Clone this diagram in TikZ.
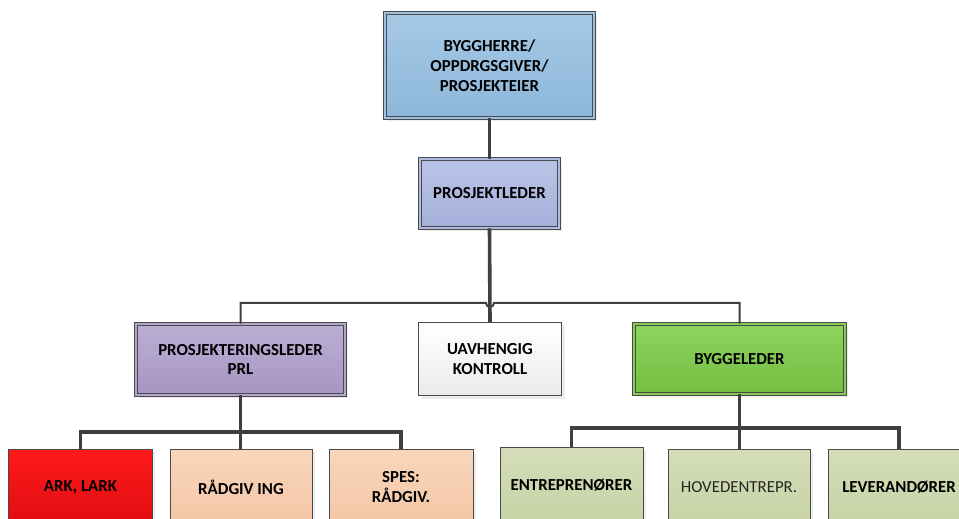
\documentclass[tikz,border=0pt]{standalone}
\usepackage{fontspec}
\setmainfont{Carlito}
\usetikzlibrary{shadows}

\definecolor{linegray}{HTML}{3F3F3F}
\definecolor{edgegray}{HTML}{4A4A4A}
\definecolor{ownerTop}{HTML}{A6C9E5}
\definecolor{ownerBot}{HTML}{8DB7DA}
\definecolor{ownerMid}{HTML}{9CC2E2}
\definecolor{plTop}{HTML}{BAC4E8}
\definecolor{plBot}{HTML}{A4B0DA}
\definecolor{plMid}{HTML}{B0BAE2}
\definecolor{prlTop}{HTML}{BBAED4}
\definecolor{prlBot}{HTML}{A696C2}
\definecolor{prlMid}{HTML}{B2A4CC}
\definecolor{ukBot}{HTML}{EBEBEB}
\definecolor{blTop}{HTML}{8ED35F}
\definecolor{blBot}{HTML}{74BF42}
\definecolor{blMid}{HTML}{84CC52}
\definecolor{arkTop}{HTML}{FF1A1A}
\definecolor{arkBot}{HTML}{E00C12}
\definecolor{peachTop}{HTML}{F9D6BB}
\definecolor{peachBot}{HTML}{F3C6A6}
\definecolor{oliveTop}{HTML}{D4DDB8}
\definecolor{oliveBot}{HTML}{C7D3A6}

\tikzset{
  box/.style={rectangle, inner sep=0pt, align=center,
    font=\fontsize{16.9}{19.8}\selectfont\bfseries,
    drop shadow={shadow xshift=3bp, shadow yshift=-3bp, fill=black!14}},
  twinbox/.style={box, draw=edgegray, line width=0.9bp,
    double distance=1.8bp},
  solobox/.style={box, draw=edgegray, line width=1bp},
  conn/.style={draw=linegray, line width=3.6bp},
  busline/.style={draw=linegray, line width=2bp},
}

\begin{document}
\begin{tikzpicture}[x=1bp, y=-1bp]
  \path[use as bounding box] (0,0) rectangle (959,519);
  \clip (0,0) rectangle (959,519);

  % management levels
  \node[twinbox, double=ownerMid, top color=ownerTop, bottom color=ownerBot,
        minimum width=209bp, minimum height=105bp] (owner) at (489.5,65.5)
        {BYGGHERRE/\\OPPDRGSGIVER/\\PROSJEKTEIER};
  \node[twinbox, double=plMid, top color=plTop, bottom color=plBot,
        minimum width=139bp, minimum height=69bp] (pl) at (489.5,193.5)
        {PROSJEKTLEDER};

  % second level
  \node[twinbox, double=prlMid, top color=prlTop, bottom color=prlBot,
        minimum width=209bp, minimum height=71bp] (prl) at (240.5,359.5)
        {PROSJEKTERINGSLEDER\\PRL};
  \node[solobox, top color=white, bottom color=ukBot,
        minimum width=143bp, minimum height=73bp] (uk) at (490,359)
        {UAVHENGIG\\KONTROLL};
  \node[twinbox, double=blMid, top color=blTop, bottom color=blBot,
        minimum width=211bp, minimum height=70bp] (bl) at (739.5,359)
        {BYGGELEDER};

  % design team
  \node[solobox, top color=arkTop, bottom color=arkBot,
        minimum width=143bp, minimum height=76bp] (ark) at (80.5,487)
        {ARK, LARK};
  \node[solobox, top color=peachTop, bottom color=peachBot,
        minimum width=142bp, minimum height=76bp] (rad) at (241,487)
        {RÅDGIV ING};
  \node[solobox, top color=peachTop, bottom color=peachBot,
        minimum width=144bp, minimum height=76bp] (spes) at (401,487)
        {SPES:\\RÅDGIV.};

  % construction side
  \node[solobox, top color=oliveTop, bottom color=oliveBot,
        minimum width=143bp, minimum height=76bp] (ent) at (571.5,485)
        {ENTREPRENØRER};
  \node[solobox, top color=oliveTop, bottom color=oliveBot,
        minimum width=142bp, minimum height=76bp,
        font=\fontsize{16.9}{19.8}\selectfont\mdseries, text=black!85] (hov) at (739,487)
        {HOVEDENTREPR.};
  \node[solobox, top color=oliveTop, bottom color=oliveBot,
        minimum width=142bp, minimum height=76bp] (lev) at (899,487)
        {LEVERANDØRER};

  % bus levels
  \coordinate (hop) at (490,303);
  \coordinate (pbus) at (241,432);
  \coordinate (bbus) at (740,428);

  % connectors
  \draw[busline] (prl.north) |- ([xshift=-4bp]hop)
        arc[start angle=180, end angle=360, radius=4bp] -| (bl.north);
  \draw[conn] (owner.south) -- (pl.north);
  \draw[conn] (pl.south) -- (uk.north);

  \draw[conn] (ark.north) |- (pbus) -| (spes.north);
  \draw[conn] (prl.south) -- (prl.south |- rad.north);

  \draw[conn] (ent.north) |- (bbus) -| (lev.north);
  \draw[conn] (bl.south) -- (bl.south |- hov.north);
\end{tikzpicture}
\end{document}
